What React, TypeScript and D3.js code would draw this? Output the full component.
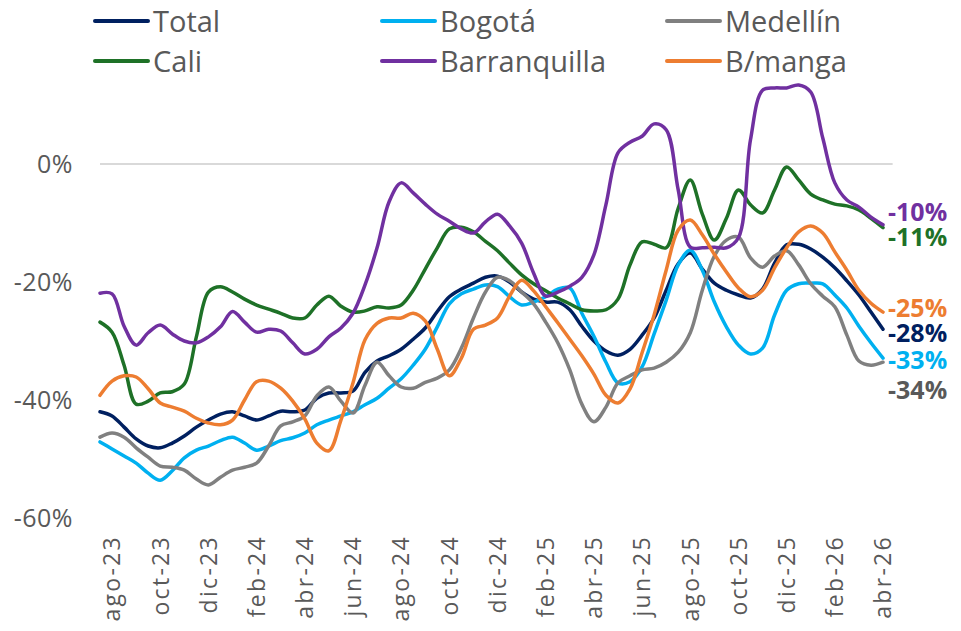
import * as d3 from "d3";

// monthly categories on the axis (labels shown every other month)
const MONTHS = [
  "ago-23", "sep-23", "oct-23", "nov-23", "dic-23", "ene-24", "feb-24", "mar-24", "abr-24",
  "may-24", "jun-24", "jul-24", "ago-24", "sep-24", "oct-24", "nov-24", "dic-24", "ene-25",
  "feb-25", "mar-25", "abr-25", "may-25", "jun-25", "jul-25", "ago-25", "sep-25", "oct-25",
  "nov-25", "dic-25", "ene-26", "feb-26", "mar-26", "abr-26",
];

// series are read every half month, starting half a month before ago-23
const total = [
  -42.0, -42.7, -44.6, -46.6, -47.8, -48.1, -47.3, -46.1, -44.6, -43.4, -42.4,
  -42.0, -42.7, -43.4, -42.7, -41.9, -42.0, -41.7, -39.7, -38.8, -38.8, -38.5,
  -35.3, -33.4, -32.5, -31.4, -29.7, -27.8, -25.0, -22.5, -21.2, -20.2, -19.2,
  -19.0, -20.0, -21.7, -22.9, -23.4, -23.4, -24.7, -27.5, -30.0, -31.7, -32.4,
  -31.4, -29.0, -26.1, -21.4, -16.9, -15.1, -17.8, -20.2, -21.4, -22.2, -22.7,
  -21.2, -16.8, -13.7, -13.6, -14.4, -15.8, -17.6, -19.8, -22.2, -25.1, -28.0,
];
const bogota = [
  -47.1, -48.3, -49.5, -50.7, -52.4, -53.6, -52.0, -49.8, -48.5, -47.8, -46.9,
  -46.3, -47.3, -48.5, -47.8, -46.9, -46.4, -45.6, -44.2, -43.4, -42.7, -42.0,
  -40.8, -39.7, -38.0, -36.4, -34.1, -31.4, -27.6, -23.7, -22.0, -21.2, -20.5,
  -20.8, -22.5, -23.9, -23.4, -22.5, -21.2, -21.0, -25.3, -29.2, -33.6, -37.1,
  -36.9, -34.4, -28.8, -23.1, -17.1, -14.6, -18.0, -23.4, -27.6, -30.7, -32.2,
  -31.2, -25.6, -21.4, -20.3, -20.2, -20.3, -22.2, -24.4, -27.5, -30.3, -32.9,
];
const medellin = [
  -46.3, -45.6, -46.3, -48.1, -49.7, -51.2, -51.4, -51.9, -53.4, -54.4, -53.1,
  -51.9, -51.4, -50.7, -47.8, -44.4, -43.7, -42.7, -39.3, -37.8, -40.2, -42.2,
  -37.5, -33.6, -35.9, -37.8, -38.0, -37.0, -36.3, -34.9, -31.2, -26.1, -21.7,
  -19.2, -19.8, -21.7, -23.7, -26.8, -30.3, -34.9, -40.7, -43.7, -41.2, -37.1,
  -35.9, -34.9, -34.6, -33.6, -31.9, -28.6, -21.4, -15.6, -12.9, -12.4, -15.9,
  -17.5, -15.6, -14.7, -17.1, -20.3, -22.4, -24.2, -29.0, -33.4, -34.1, -33.6,
];
const cali = [
  -26.8, -28.5, -34.1, -40.7, -40.2, -38.8, -38.6, -37.3, -29.3, -21.7, -20.8,
  -21.7, -22.9, -23.9, -24.6, -25.3, -26.1, -26.1, -23.9, -22.4, -24.1, -25.1,
  -24.9, -24.2, -24.4, -23.9, -21.4, -17.8, -14.2, -11.0, -10.7, -11.5, -13.1,
  -14.7, -16.8, -18.8, -20.3, -21.5, -22.7, -23.7, -24.7, -24.9, -24.7, -22.9,
  -17.1, -13.2, -13.6, -14.2, -7.5, -2.7, -8.5, -12.9, -9.2, -4.4, -6.9,
  -8.3, -4.4, -0.5, -2.7, -5.1, -6.1, -6.8, -7.1, -7.8, -9.2, -10.8,
];
const barranquilla = [
  -21.9, -22.0, -27.5, -30.7, -28.6, -27.3, -28.8, -30.0, -30.3, -29.3, -27.6,
  -25.0, -26.8, -28.5, -28.0, -28.3, -30.3, -32.2, -31.4, -29.3, -27.8, -25.3,
  -20.5, -14.2, -6.4, -3.2, -4.9, -6.8, -8.5, -9.7, -11.0, -11.7, -9.8,
  -8.5, -10.5, -13.4, -18.5, -22.4, -21.7, -20.7, -19.2, -15.4, -6.9, 1.9,
  3.7, 4.7, 6.8, 5.8, -4.4, -14.1, -14.2, -14.1, -14.2, -12.5, 4.1,
  12.5, 12.9, 12.9, 13.4, 12.2, 4.4, -3.2, -6.1, -7.3, -9.0, -10.3,
];
const bmanga = [
  -39.2, -36.8, -35.9, -36.1, -38.1, -40.5, -41.2, -41.9, -43.1, -43.9, -44.2,
  -43.4, -40.0, -36.9, -36.8, -38.0, -40.2, -43.2, -47.3, -48.6, -43.4, -37.1,
  -29.8, -27.0, -26.1, -26.1, -25.3, -26.6, -31.4, -35.9, -32.9, -28.0, -27.3,
  -26.1, -22.4, -19.7, -21.5, -24.2, -26.9, -29.7, -32.5, -35.6, -39.2, -40.5,
  -38.1, -32.0, -25.6, -18.0, -11.2, -9.5, -12.0, -15.3, -18.3, -21.0, -22.5,
  -21.4, -17.6, -14.2, -11.5, -10.5, -11.7, -14.9, -18.0, -21.4, -23.6, -25.1,
];

const Y_TICKS = [0, -20, -40, -60];

const SERIES = [
  { name: "Total", values: total, color: "#002060", labelColor: "#002060", labelDy: 4 },
  { name: "Bogotá", values: bogota, color: "#00B0F0", labelColor: "#00B0F0", labelDy: 2 },
  { name: "Medellín", values: medellin, color: "#808080", labelColor: "#595959", labelDy: 28 },
  { name: "Cali", values: cali, color: "#1E7127", labelColor: "#1E7127", labelDy: 9 },
  { name: "Barranquilla", values: barranquilla, color: "#7030A0", labelColor: "#7030A0", labelDy: -13 },
  { name: "B/manga", values: bmanga, color: "#ED7D31", labelColor: "#ED7D31", labelDy: -4 },
];

const W = 961;
const H = 631;
const FONT = "'Open Sans', 'DejaVu Sans', sans-serif";
const TEXT = "#595959";

export default function App() {
  const x = d3.scaleLinear().domain([-0.5, MONTHS.length - 1]).range([100, 883]);
  const y = d3.scaleLinear().domain([-60, 0]).range([518, 164]);

  const line = d3
    .line<number>()
    .x((_, i) => x(-0.5 + i * 0.5))
    .y((d) => y(d))
    .curve(d3.curveCatmullRom.alpha(0.5));

  const legendCols = [95, 382, 667];
  const legendRows = [21, 61];

  return (
    <svg
      width={W}
      height={H}
      style={{ position: "absolute", left: 0, top: 0, background: "#fff" }}
      fontFamily={FONT}
    >
      {/* zero line */}
      <line x1={x(-0.5)} x2={x(32.4)} y1={y(0)} y2={y(0)} stroke="#d9d9d9" strokeWidth={2} />

      {/* y labels */}
      {Y_TICKS.map((t) => (
        <text
          key={t}
          x={73}
          y={y(t)}
          dy="0.36em"
          textAnchor="end"
          fontSize={25}
          fill={TEXT}
          letterSpacing={0.5}
        >
          {t}%
        </text>
      ))}

      {/* x labels */}
      {MONTHS.map((m, i) =>
        i % 2 === 0 ? (
          <text
            key={m}
            transform={`translate(${x(i)},535) rotate(-90)`}
            dy="0.36em"
            textAnchor="end"
            fontSize={23}
            letterSpacing={2.3}
            fill={TEXT}
          >
            {m}
          </text>
        ) : null
      )}

      {/* lines */}
      {SERIES.map((s) => (
        <path
          key={s.name}
          d={line(s.values) ?? ""}
          fill="none"
          stroke={s.color}
          strokeWidth={3.5}
          strokeLinejoin="round"
          strokeLinecap="round"
        />
      ))}

      {/* end labels */}
      {SERIES.map((s) => {
        const last = s.values[s.values.length - 1];
        return (
          <text
            key={s.name}
            x={888}
            y={y(last) + s.labelDy}
            dy="0.36em"
            fontSize={25}
            fontWeight={700}
            fill={s.labelColor}
          >
            {Math.round(last)}%
          </text>
        );
      })}

      {/* legend */}
      {SERIES.map((s, i) => {
        const lx = legendCols[i % 3];
        const ly = legendRows[Math.floor(i / 3)];
        return (
          <g key={s.name}>
            <line
              x1={lx}
              x2={lx + 53}
              y1={ly}
              y2={ly}
              stroke={s.color}
              strokeWidth={4}
              strokeLinecap="round"
            />
            <text x={lx + 58} y={ly + 11} fontSize={29} fill={TEXT}>
              {s.name}
            </text>
          </g>
        );
      })}
    </svg>
  );
}
